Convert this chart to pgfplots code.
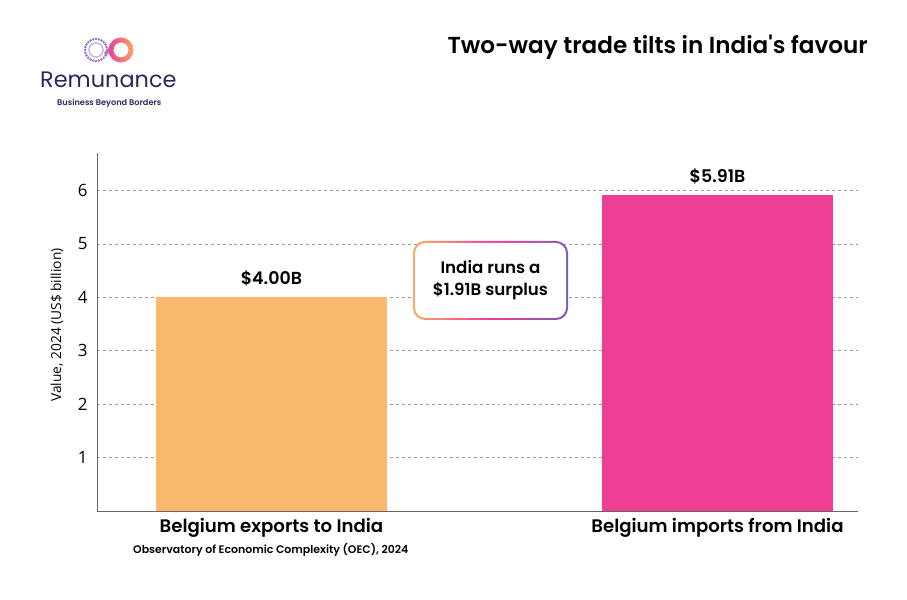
\documentclass[border=0pt]{standalone}
\usepackage{fontspec}
\setmainfont{Poppins}
\newfontfamily\semi{Poppins SemiBold}
\newfontfamily\ticks{Open Sans}
\usepackage{pgfplots}
\pgfplotsset{compat=1.18}
\usetikzlibrary{shadings}

\definecolor{exportcol}{HTML}{F9B86B}
\definecolor{importcol}{HTML}{EE3F94}
\definecolor{brandnavy}{HTML}{2B2860}
\definecolor{brandpurple}{HTML}{7B5AB8}
\definecolor{brandorange}{HTML}{F9A866}
\definecolor{gridgray}{HTML}{9A9A9A}

\pgfplotstableread{
x value
0 4.00
}\exportstab
\pgfplotstableread{
x value
1 5.91
}\importstab

\begin{document}
\begin{tikzpicture}[x=1bp,y=1bp]
\useasboundingbox (0,0) rectangle (907,600);

% brand mark: dotted loop and gradient loop
\begin{scope}[shift={(108,550)}]
  \foreach \a in {0,15,...,345}{
    \fill[brandpurple!85] ({-12+11*cos(\a)},{11*sin(\a)}) circle (1.4);
    \fill[brandpurple!55] ({-12+7*cos(\a+7)},{7*sin(\a+7)}) circle (1.0);
  }
  \shade[left color=importcol,right color=brandorange,even odd rule]
    (13,0) circle (12.5) (13,0) circle (7.5);
  \shade[left color=brandpurple!70,right color=importcol]
    (-4,-3) -- (2,4) -- (4,1) -- (-2,-6) -- cycle;
\end{scope}
\node[anchor=west,text=brandnavy,font=\fontsize{22.5}{26}\selectfont,inner sep=0] at (40,520) {Remunance};
\node[anchor=west,text=brandnavy,font=\semi\fontsize{8.2}{10}\selectfont,inner sep=0] at (57,497) {Business Beyond Borders};

% title
\node[anchor=east,font=\semi\fontsize{23.2}{27}\selectfont,inner sep=0] at (868,553) {Two-way trade tilts in India's favour};

\begin{axis}[
  at={(97bp,89bp)}, anchor=south west,
  width=761bp, height=358bp, scale only axis,
  xmin=-0.391, xmax=1.315,
  ymin=0, ymax=6.7,
  axis lines=left,
  axis line style={gray!80!black, line width=0.8pt, -},
  xtick={0,1},
  xticklabels={Belgium exports to India, Belgium imports from India},
  xticklabel style={font=\semi\fontsize{18.2}{21}\selectfont, yshift=-4bp},
  ytick={1,2,3,4,5,6},
  yticklabel style={font=\ticks\fontsize{17}{20}\selectfont, xshift=-6bp},
  /pgf/number format/assume math mode=true,
  major tick length=0pt,
  ymajorgrids,
  grid style={gridgray, dashed, line width=0.5pt},
  ytick style={draw=none},
  xtick style={draw=none},
  ybar, bar width=231bp, bar shift=0pt,
  nodes near coords={\$\pgfmathprintnumber[fixed,fixed zerofill,precision=2]{\pgfplotspointmeta}B},
  nodes near coords style={font=\semi\fontsize{17.5}{20}\selectfont, text=black, yshift=8bp},
  clip=false,
]
\addplot[fill=exportcol, draw=none] table[x=x,y=value] {\exportstab};
\addplot[fill=importcol, draw=none] table[x=x,y=value] {\importstab};
\end{axis}

% y axis title
\node[rotate=90,font=\ticks\fontsize{13.8}{16}\selectfont] at (57,275) {Value, 2024 (US\$ billion)};

% source note
\node[anchor=west,font=\semi\fontsize{11}{13}\selectfont,inner sep=0] at (133,50) {Observatory of Economic Complexity (OEC), 2024};

% surplus callout with gradient border
\shade[left color=brandorange, right color=brandpurple, middle color=importcol, rounded corners=12]
  (413,280) rectangle (568,359);
\fill[white, rounded corners=10.5] (415,282) rectangle (566,357);
\node[align=center, font=\semi\fontsize{16.7}{22}\selectfont] at (490.5,319.5) {India runs a\\\$1.91B surplus};
\end{tikzpicture}
\end{document}
